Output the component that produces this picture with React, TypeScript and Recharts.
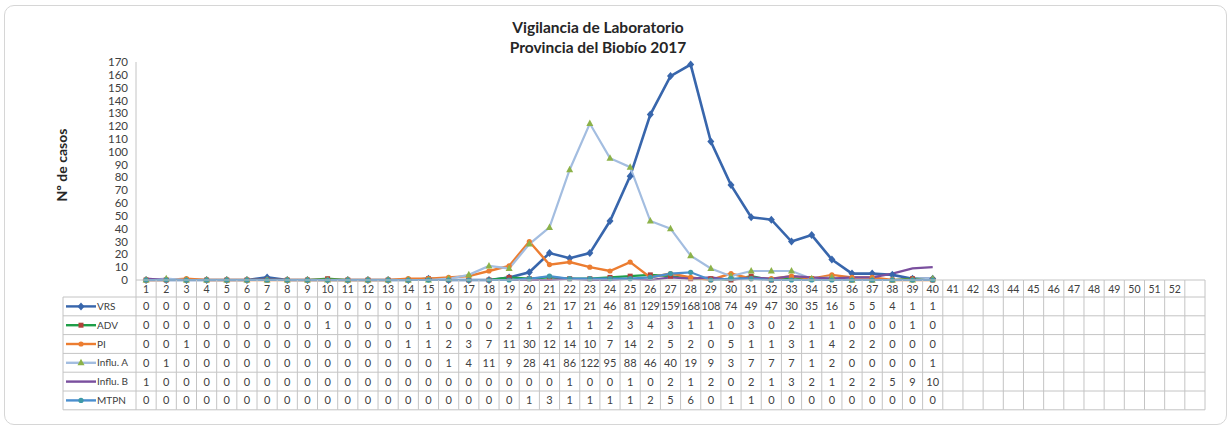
import React from "react";
import { LineChart, Line, XAxis, YAxis } from "recharts";

const weekLabels = [
  "1", "2", "3", "4", "5", "6", "7", "8", "9", "10", "11", "12", "13", "14", "15", "16", "17", "18",
  "19", "20", "21", "22", "23", "24", "25", "26", "27", "28", "29", "30", "31", "32", "33", "34", "35",
  "36", "37", "38", "39", "40", "41", "42", "43", "44", "45", "46", "47", "48", "49", "50", "51", "52", "",
];

const vrs = [0, 0, 0, 0, 0, 0, 2, 0, 0, 0, 0, 0, 0, 0, 1, 0, 0, 0, 2, 6, 21, 17, 21, 46, 81, 129, 159, 168, 108, 74, 49, 47, 30, 35, 16, 5, 5, 4, 1, 1];
const adv = [0, 0, 0, 0, 0, 0, 0, 0, 0, 1, 0, 0, 0, 0, 1, 0, 0, 0, 2, 1, 2, 1, 1, 2, 3, 4, 3, 1, 1, 0, 3, 0, 2, 1, 1, 0, 0, 0, 1, 0];
const pi = [0, 0, 1, 0, 0, 0, 0, 0, 0, 0, 0, 0, 0, 1, 1, 2, 3, 7, 11, 30, 12, 14, 10, 7, 14, 2, 5, 2, 0, 5, 1, 1, 3, 1, 4, 2, 2, 0, 0, 0];
const influA = [0, 1, 0, 0, 0, 0, 0, 0, 0, 0, 0, 0, 0, 0, 0, 1, 4, 11, 9, 28, 41, 86, 122, 95, 88, 46, 40, 19, 9, 3, 7, 7, 7, 1, 2, 0, 0, 0, 0, 1];
const influB = [1, 0, 0, 0, 0, 0, 0, 0, 0, 0, 0, 0, 0, 0, 0, 0, 0, 0, 0, 0, 0, 1, 0, 0, 1, 0, 2, 1, 2, 0, 2, 1, 3, 2, 1, 2, 2, 5, 9, 10];
const mtpn = [0, 0, 0, 0, 0, 0, 0, 0, 0, 0, 0, 0, 0, 0, 0, 0, 0, 0, 0, 1, 3, 1, 1, 1, 1, 2, 5, 6, 0, 1, 1, 0, 0, 0, 0, 0, 0, 0, 0, 0];

const yTicks = [0, 10, 20, 30, 40, 50, 60, 70, 80, 90, 100, 110, 120, 130, 140, 150, 160, 170];

const data = weekLabels.map((w, i) => ({
  week: w,
  VRS: vrs[i] ?? null,
  ADV: adv[i] ?? null,
  PI: pi[i] ?? null,
  InfluA: influA[i] ?? null,
  InfluB: influB[i] ?? null,
  MTPN: mtpn[i] ?? null,
}));

// layout
const W = 1232;
const H = 429;
const PLOT_LEFT = 136;
const PLOT_RIGHT = 1205;
const PLOT_TOP = 62;
const PLOT_BOTTOM = 280;
const BAND = (PLOT_RIGHT - PLOT_LEFT) / weekLabels.length;
const HEAD_H = 17;
const ROW_H = 18.8;
const LEGEND_LEFT = 63;
const GRID = "#c4c4c4";
const TXT = "#404040";
const FONT = "Lato, 'Open Sans', sans-serif";

type Marker = "diamond" | "square" | "triangle" | "circle" | "none";

const series: { key: string; label: string; values: number[]; color: string; marker: Marker; markerColor: string; width: number }[] = [
  { key: "VRS", label: "VRS", values: vrs, color: "#3866ac", marker: "diamond", markerColor: "#3866ac", width: 2.6 },
  { key: "ADV", label: "ADV", values: adv, color: "#1e9e48", marker: "square", markerColor: "#b0413a", width: 2.2 },
  { key: "PI", label: "PI", values: pi, color: "#ec7d31", marker: "circle", markerColor: "#ec7d31", width: 2.4 },
  { key: "InfluA", label: "Influ. A", values: influA, color: "#a3bde0", marker: "triangle", markerColor: "#8cb249", width: 2.2 },
  { key: "InfluB", label: "Influ. B", values: influB, color: "#7a4f9e", marker: "none", markerColor: "#7a4f9e", width: 2.2 },
  { key: "MTPN", label: "MTPN", values: mtpn, color: "#4b8fcf", marker: "circle", markerColor: "#3f9aa8", width: 2.2 },
];

function drawMarker(kind: Marker, cx: number, cy: number, fill: string, k: string | number) {
  if (kind === "diamond") {
    return <polygon key={k} points={`${cx},${cy - 4} ${cx + 3.5},${cy} ${cx},${cy + 4} ${cx - 3.5},${cy}`} fill={fill} />;
  }
  if (kind === "square") {
    return <rect key={k} x={cx - 2.5} y={cy - 2.5} width={5} height={5} fill={fill} />;
  }
  if (kind === "triangle") {
    return <polygon key={k} points={`${cx},${cy - 4} ${cx + 3.5},${cy + 2.5} ${cx - 3.5},${cy + 2.5}`} fill={fill} />;
  }
  if (kind === "circle") {
    return <circle key={k} cx={cx} cy={cy} r={2.6} fill={fill} />;
  }
  return <g key={k} />;
}

const makeDot = (kind: Marker, fill: string) => (props: any) => {
  const { cx, cy, index, value } = props;
  if (value == null || cx == null || cy == null) return <g key={`d-${index}`} />;
  return drawMarker(kind, cx, cy, fill, `d-${index}`);
};

const TableTick = (props: any) => {
  const { x, y, payload } = props;
  const i = props.index ?? payload.index;
  const left = x - BAND / 2;
  const right = x + BAND / 2;
  const bottom = y + HEAD_H + ROW_H * series.length;
  const cells: React.ReactNode[] = [];

  // header label
  cells.push(
    <text key="h" x={x} y={y + HEAD_H / 2 + 4} textAnchor="middle" fontSize={10.5} fill={TXT} fontFamily={FONT}>
      {payload.value}
    </text>
  );
  cells.push(<line key="vr" x1={right} x2={right} y1={y} y2={bottom} stroke={GRID} strokeWidth={1} />);

  series.forEach((s, r) => {
    const top = y + HEAD_H + ROW_H * r;
    cells.push(<line key={`hl-${r}`} x1={left} x2={right} y1={top} y2={top} stroke={GRID} strokeWidth={1} />);
    const v = s.values[i];
    if (v != null) {
      cells.push(
        <text key={`t-${r}`} x={x} y={top + ROW_H / 2 + 4} textAnchor="middle" fontSize={11} fill={TXT} fontFamily={FONT}>
          {v}
        </text>
      );
    }
  });
  cells.push(<line key="bl" x1={left} x2={right} y1={bottom} y2={bottom} stroke={GRID} strokeWidth={1} />);
  cells.push(<line key="tl" x1={left} x2={right} y1={y} y2={y} stroke={GRID} strokeWidth={1} />);

  // legend column, drawn with the first column
  if (i === 0) {
    const top0 = y + HEAD_H;
    cells.push(<line key="lv0" x1={LEGEND_LEFT} x2={LEGEND_LEFT} y1={top0} y2={bottom} stroke={GRID} strokeWidth={1} />);
    cells.push(<line key="lv1" x1={left} x2={left} y1={y} y2={bottom} stroke={GRID} strokeWidth={1} />);
    series.forEach((s, r) => {
      const top = top0 + ROW_H * r;
      const cy = top + ROW_H / 2;
      cells.push(<line key={`lh-${r}`} x1={LEGEND_LEFT} x2={left} y1={top} y2={top} stroke={GRID} strokeWidth={1} />);
      cells.push(<line key={`ls-${r}`} x1={LEGEND_LEFT + 3} x2={LEGEND_LEFT + 33} y1={cy} y2={cy} stroke={s.color} strokeWidth={2.4} />);
      cells.push(drawMarker(s.marker, LEGEND_LEFT + 18, cy, s.markerColor, `lm-${r}`));
      cells.push(
        <text key={`lt-${r}`} x={LEGEND_LEFT + 34} y={cy + 3.6} fontSize={10} fill={TXT} fontFamily={FONT}>
          {s.label}
        </text>
      );
    });
    cells.push(<line key="lb" x1={LEGEND_LEFT} x2={left} y1={bottom} y2={bottom} stroke={GRID} strokeWidth={1} />);
  }
  return <g>{cells}</g>;
};

const App = () => {
  const tableH = HEAD_H + ROW_H * series.length;
  return (
    <div style={{ position: "absolute", left: 0, top: 0, width: W, height: H, background: "#fff" }}>
      <div
        style={{
          position: "absolute",
          left: 4,
          top: 5,
          width: 1221,
          height: 418,
          border: "1px solid #d6d6d6",
          borderRadius: 10,
        }}
      />
      <div style={{ position: "absolute", left: 0, top: 0 }}>
        <LineChart
          width={W}
          height={H}
          data={data}
          margin={{ top: PLOT_TOP, left: PLOT_LEFT - 40, right: W - PLOT_RIGHT, bottom: H - PLOT_BOTTOM - tableH }}
        >
          <text x={598} y={33} textAnchor="middle" fontSize={15.5} fontWeight="bold" fill="#262626" fontFamily={FONT}>
            Vigilancia de Laboratorio
          </text>
          <text x={598} y={53} textAnchor="middle" fontSize={15.5} fontWeight="bold" fill="#262626" fontFamily={FONT}>
            Provincia del Biobío 2017
          </text>
          <text
            x={67}
            y={165}
            transform="rotate(-90 67 165)"
            textAnchor="middle"
            fontSize={14}
            fontWeight="bold"
            fill="#262626"
            fontFamily={FONT}
          >
            Nº de casos
          </text>
          <XAxis
            dataKey="week"
            scale="band"
            interval={0}
            height={tableH}
            tickSize={0}
            tickMargin={0}
            axisLine={false}
            tickLine={false}
            tick={<TableTick />}
          />
          <YAxis
            width={40}
            domain={[0, 170]}
            ticks={yTicks}
            interval={0}
            tickSize={0}
            tickMargin={8}
            tickLine={false}
            axisLine={{ stroke: "#c4c4c4" }}
            tick={{ fontSize: 11.5, fill: TXT, fontFamily: FONT }}
          />
          {series.map((s) => (
            <Line
              key={s.key}
              type="linear"
              dataKey={s.key}
              stroke={s.color}
              strokeWidth={s.width}
              dot={makeDot(s.marker, s.markerColor)}
              activeDot={false}
              isAnimationActive={false}
            />
          ))}
        </LineChart>
      </div>
    </div>
  );
};

export default App;
